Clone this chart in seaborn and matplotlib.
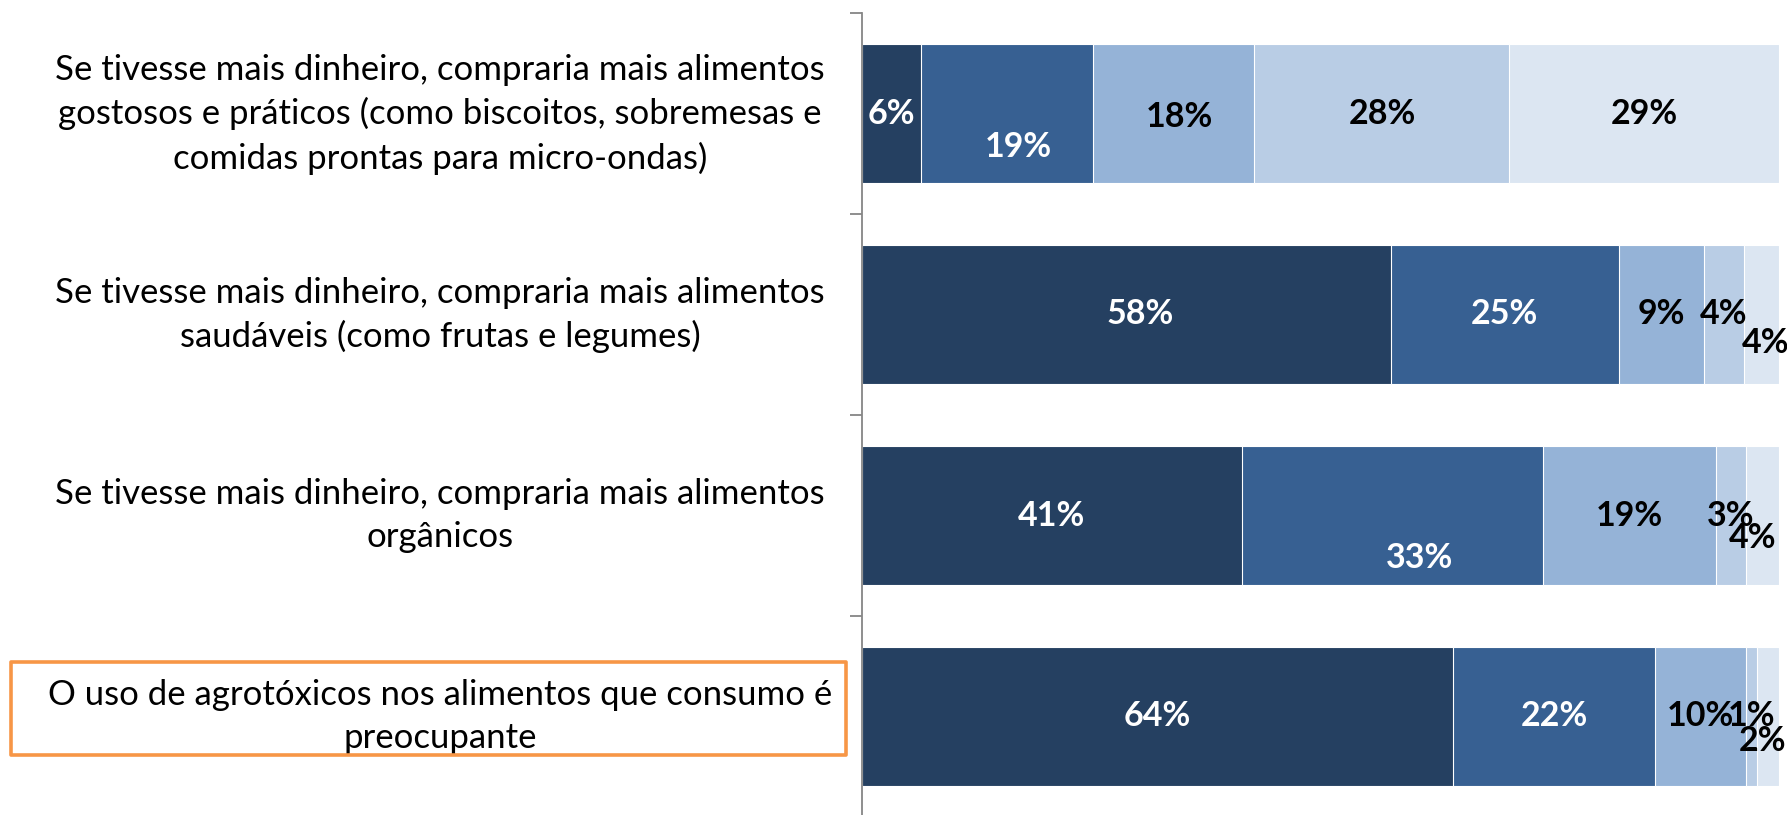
import numpy as np
import pandas as pd
import matplotlib
matplotlib.use("Agg")
import matplotlib.pyplot as plt
import seaborn as sns
from matplotlib.patches import Rectangle

# ---------------- data ----------------
categories = [
    "Se tivesse mais dinheiro, compraria mais alimentos\ngostosos e práticos (como biscoitos, sobremesas e\ncomidas prontas para micro-ondas)",
    "Se tivesse mais dinheiro, compraria mais alimentos\nsaudáveis (como frutas e legumes)",
    "Se tivesse mais dinheiro, compraria mais alimentos\norgânicos",
    "O uso de agrotóxicos nos alimentos que consumo é\npreocupante",
]
levels = ["L1", "L2", "L3", "L4", "L5"]
level1 = [6.4, 57.7, 41.4, 64.4]
level2 = [18.8, 24.8, 32.9, 22.1]
level3 = [17.6, 9.3, 18.8, 9.9]
level4 = [27.8, 4.4, 3.3, 1.2]
level5 = [29.4, 3.8, 3.6, 2.4]

# ---------------- styles ----------------
colors = ["#254061", "#376092", "#95B3D7", "#B9CDE5", "#DCE6F2"]
label_colors = ["white", "white", "black", "black", "black"]
# manual label nudges (dx in %, dy in category units) for (row, level)
label_nudge = {
    (0, 1): (1.3, 0.165),
    (0, 2): (0.6, 0.015),
    (1, 0): (1.5, 0.0),
    (1, 4): (0.4, 0.14),
    (2, 1): (3.0, 0.21),
    (2, 4): (-1.1, 0.11),
    (3, 4): (-0.6, 0.12),
}
cat_label_shift = -0.04  # category labels sit slightly above bar centres

sns.set_style("white")
plt.rcParams["font.family"] = ["Lato", "DejaVu Sans"]

W, H, DPI = 1787, 815, 100
fig = plt.figure(figsize=(W / DPI, H / DPI), dpi=DPI)
ax_left, ax_right = 862 / W, 1779 / W
ax_top, ax_bot = 1 - 13 / H, 1 - 817 / H
ax = fig.add_axes([ax_left, ax_bot, ax_right - ax_left, ax_top - ax_bot])

values = np.array([level1, level2, level3, level4, level5])  # levels x rows
cum = np.cumsum(values, axis=0)

# stacked bars: draw cumulative totals from largest to smallest
for j in range(len(levels) - 1, -1, -1):
    df = pd.DataFrame({"cat": categories, "val": cum[j]})
    sns.barplot(data=df, x="val", y="cat", orient="h", color=colors[j],
                saturation=1, width=0.687, edgecolor="white", linewidth=0.8,
                ax=ax, order=categories)

# data labels
for i in range(len(categories)):
    for j in range(len(levels)):
        v = values[j, i]
        cx = cum[j, i] - v / 2
        dx, dy = label_nudge.get((i, j), (0.0, 0.0))
        ax.text(cx + dx, i + dy, f"{int(round(v))}%", ha="center", va="center",
                color=label_colors[j], fontsize=24.5, fontweight="bold",
                clip_on=False, zorder=10)

ax.set_xlim(0, 100)
ax.set_ylim(len(categories) - 0.5, -0.5)
ax.set_xlabel("")
ax.set_ylabel("")
ax.set_xticks([])
for s in ["top", "right", "bottom"]:
    ax.spines[s].set_visible(False)
ax.spines["left"].set_color("#868686")
ax.spines["left"].set_linewidth(1.3)

ax.set_yticks([i + cat_label_shift for i in range(len(categories))])
ax.set_yticklabels(categories)
ax.set_yticks(np.arange(-0.5, len(categories) + 0.5, 1.0), minor=True)
ax.tick_params(axis="y", which="major", length=0, pad=303.8, labelsize=25,
               labelcolor="black")
ax.tick_params(axis="y", which="minor", length=8.6, width=1.3, color="#868686",
               direction="out", left=True)
for t in ax.get_yticklabels():
    t.set_horizontalalignment("center")
    t.set_multialignment("center")
    t.set_linespacing(1.42)

# orange highlight box around last category label
box = Rectangle((11 / W, 1 - 755 / H), 835 / W, 93 / H, transform=fig.transFigure,
                fill=False, edgecolor="#F79646", linewidth=2.6, zorder=20,
                joinstyle="round")
fig.add_artist(box)

fig.savefig("out.png", dpi=DPI, facecolor="white")
